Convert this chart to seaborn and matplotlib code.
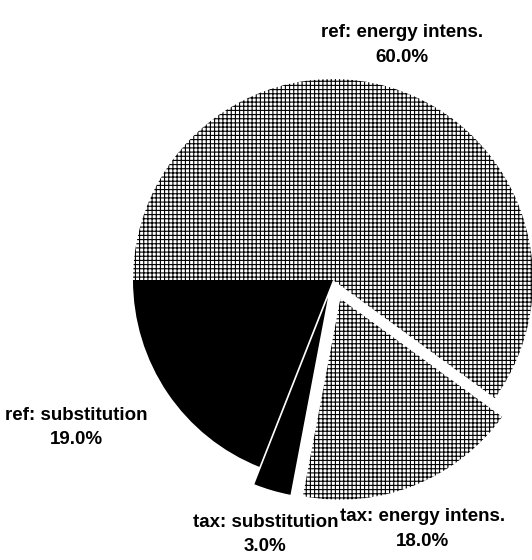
import numpy as np
import matplotlib
matplotlib.use('Agg')
import matplotlib.pyplot as plt
import seaborn as sns

# data
labels = ['ref: energy intens.', 'tax: energy intens.', 'tax: substitution', 'ref: substitution']
shares = [60.0, 18.0, 3.0, 19.0]

sns.set_theme(style='white')
plt.rcParams['font.family'] = ['Liberation Sans', 'DejaVu Sans']
plt.rcParams['hatch.linewidth'] = 0.8

fig = plt.figure(figsize=(5.32, 5.6), dpi=100)
ax = fig.add_axes([0, 0, 1, 1])

explode = [0, 0.1, 0.09, 0]
faces = ['white', 'white', 'black', 'black']
hatches = ['++++', '++++', None, None]

wedges, _ = ax.pie(shares, explode=explode, startangle=180, counterclock=False,
                   colors=faces, wedgeprops=dict(edgecolor='black', linewidth=0))
for w, h in zip(wedges, hatches):
    if h:
        w.set_hatch(h)

# label each slice just outside its arc
for w, lab, val in zip(wedges, labels, shares):
    mid = np.deg2rad((w.theta1 + w.theta2) / 2)
    cx, cy = w.center
    c, s = np.cos(mid), np.sin(mid)
    x, y = cx + 1.12 * c, cy + 1.12 * s
    if abs(c) < 0.5:
        ha = 'center'
    else:
        ha = 'left' if c > 0 else 'right'
    va = 'bottom' if s > 0 else 'top'
    ax.text(x, y, '%s\n%.1f%%' % (lab, val), ha=ha, va=va, multialignment='center',
            fontsize=13.5, fontweight='bold', linespacing=1.6, color='black')

# pie centre at about (333, 280) px, radius about 200 px
ax.set_aspect('auto')
ax.set_xlim(-333 / 200, (532 - 333) / 200)
ax.set_ylim((280 - 560) / 201, 280 / 201)
ax.axis('off')

fig.savefig('out.png', dpi=100, facecolor='white')
